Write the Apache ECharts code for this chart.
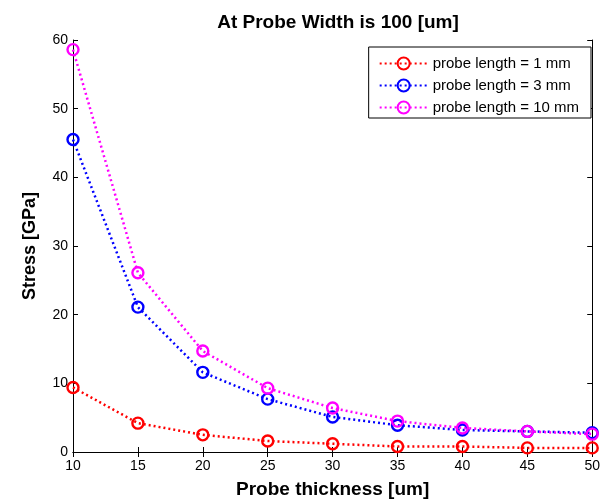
<!DOCTYPE html>
<html>
<head>
<meta charset="utf-8">
<script src="https://cdn.jsdelivr.net/npm/echarts@6/dist/echarts.min.js"></script>
<style>
  html, body { margin: 0; padding: 0; background: #fff; }
  #chart { width: 603px; height: 504px; }
</style>
</head>
<body>
<div id="chart"></div>
<script>
// probe thickness [um]
var thickness = [10, 15, 20, 25, 30, 35, 40, 45, 50];

// stress [GPa]
var len1mm = [9.4, 4.2, 2.5, 1.6, 1.2, 0.8, 0.8, 0.6, 0.6];
var len3mm = [45.5, 21.1, 11.6, 7.7, 5.1, 3.9, 3.2, 3.0, 2.8];
var len10mm = [58.6, 26.1, 14.7, 9.3, 6.4, 4.5, 3.5, 3.0, 2.6];

var seriesNames = ['probe length = 1 mm', 'probe length = 3 mm', 'probe length = 10 mm'];
var seriesColors = ['#ff0000', '#0000ff', '#ff00ff'];

var font = 'Liberation Sans, Arial, sans-serif';

function pairs(ys) {
	return thickness.map(function (x, i) { return [x, ys[i]]; });
}

function makeSeries(name, color, ys) {
	return {
		name: name,
		type: 'line',
		data: pairs(ys),
		symbol: 'circle',
		symbolSize: 11,
		showAllSymbol: true,
		color: color,
		lineStyle: { color: color, width: 2.5, type: [2, 3] },
		itemStyle: { color: 'rgba(255,255,255,0)', borderColor: color, borderWidth: 2.4 },
		emphasis: { disabled: true },
		animation: false
	};
}

var chart = echarts.init(document.getElementById('chart'), null, { renderer: 'canvas' });

var axisLine = { show: true, lineStyle: { color: '#000', width: 1 } };
var tickIn = { show: true, inside: true, length: 5, lineStyle: { color: '#000' } };

chart.setOption({
	backgroundColor: '#fff',
	title: {
		text: 'At Probe Width is 100 [um]',
		left: 333, top: 8, textAlign: 'center',
		textStyle: { fontFamily: font, fontSize: 19, fontWeight: 'bold', color: '#000' }
	},
	legend: {
		data: seriesNames,
		orient: 'vertical',
		right: 12, top: 47,
		padding: [9, 12, 3, 10],
		itemGap: 7,
		itemWidth: 48, itemHeight: 15,
		borderColor: '#000', borderWidth: 1,
		backgroundColor: '#fff',
		textStyle: { fontFamily: font, fontSize: 15, color: '#000' }
	},
	grid: { left: 73, right: 5, top: 40, bottom: 49 },
	xAxis: [{
		type: 'value', min: 10, max: 50, interval: 5,
		name: 'Probe thickness [um]', nameLocation: 'middle', nameGap: 28,
		nameTextStyle: { fontFamily: font, fontSize: 19, fontWeight: 'bold', color: '#000' },
		axisLine: axisLine, axisTick: tickIn,
		axisLabel: { fontFamily: font, fontSize: 14, color: '#000', margin: 7 },
		splitLine: { show: false }
	}, {
		type: 'value', min: 10, max: 50, interval: 5, position: 'top',
		axisLine: axisLine, axisTick: tickIn,
		axisLabel: { show: false }, splitLine: { show: false }
	}],
	yAxis: [{
		type: 'value', min: 0, max: 60, interval: 10,
		name: 'Stress [GPa]', nameLocation: 'middle', nameGap: 34,
		nameTextStyle: { fontFamily: font, fontSize: 18, fontWeight: 'bold', color: '#000' },
		axisLine: axisLine, axisTick: tickIn,
		axisLabel: { fontFamily: font, fontSize: 14, color: '#000', margin: 5 },
		splitLine: { show: false }
	}, {
		type: 'value', min: 0, max: 60, interval: 10, position: 'right',
		axisLine: axisLine, axisTick: tickIn,
		axisLabel: { show: false }, splitLine: { show: false }
	}],
	series: [
		makeSeries(seriesNames[0], seriesColors[0], len1mm),
		makeSeries(seriesNames[1], seriesColors[1], len3mm),
		makeSeries(seriesNames[2], seriesColors[2], len10mm)
	]
});
</script>
</body>
</html>
